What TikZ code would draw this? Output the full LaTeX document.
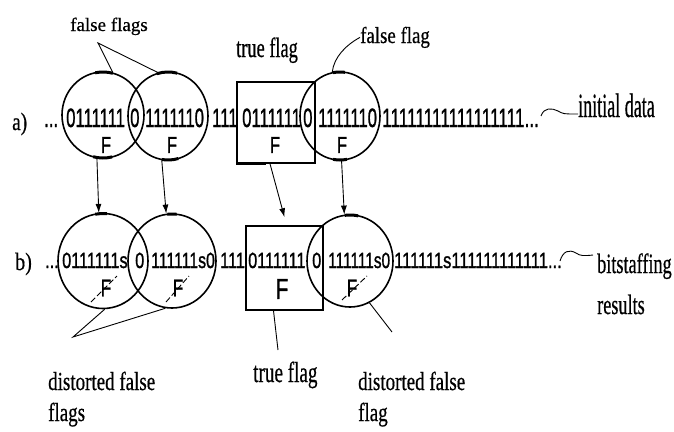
\documentclass[tikz,border=0pt]{standalone}
\usepackage{fontspec}
\usepackage{graphicx}
\setmainfont{Liberation Serif}[RawFeature={embolden=0.6}]
\newfontfamily\rowfont[RawFeature={embolden=1.3}]{Liberation Sans}
\usetikzlibrary{shapes.geometric,arrows.meta}
% horizontally condensed text
\newcommand\sq[2]{\scalebox{#1}[1]{#2}}

\begin{document}
\begin{tikzpicture}[x=1pt,y=-1pt,
  flagring/.style={ellipse, draw, line width=1.6pt, inner sep=0pt},
  flagbox/.style={rectangle, draw, line width=1.5pt, inner sep=0pt},
  blot/.style={line width=3pt},
  bitsA/.style={font=\rowfont\fontsize{26.5}{28}\selectfont, anchor=base west, inner sep=0pt},
  bitsB/.style={font=\rowfont\fontsize{22}{24}\selectfont, anchor=base west, inner sep=0pt},
  flagA/.style={font=\rowfont\fontsize{23}{24}\selectfont, inner sep=0pt},
  flagB/.style={font=\rowfont\fontsize{24}{26}\selectfont, inner sep=0pt},
  lab/.style={anchor=base west, inner sep=0pt},
  ptr/.style={line width=0.9pt},
  arr/.style={line width=0.9pt, -{Latex[length=9pt,width=6pt]}},
  slash/.style={line width=0.9pt, dash pattern=on 6pt off 2.5pt},
]
\fill[white] (0,0) rectangle (674,431);

% ---------- row a: initial data ----------
\node[lab, font=\fontsize{25}{27}\selectfont] (la) at (12,130) {\sq{0.77}{a)}};
\node[bitsA] (a0) at (44,127) {\sq{0.63}{...}};
\node[bitsA] (a1) at (66,127) {\sq{0.63}{0111111}};
\node[bitsA] (a2) at (130,127) {\sq{0.63}{0}};
\node[bitsA] (a3) at (145,127) {\sq{0.63}{1111110}};
\node[bitsA] (a4) at (212,127) {\sq{0.63}{111}};
\node[bitsA] (a5) at (242,127) {\sq{0.63}{0111111}};
\node[bitsA] (a6) at (303,127) {\sq{0.63}{0}};
\node[bitsA] (a7) at (318,127) {\sq{0.63}{1111110}};
\node[bitsA] (a8) at (382,127) {\sq{0.65}{11111111111111111...}};

\node[flagring, minimum width=82pt, minimum height=86pt] (A1) at (103,115) {};
\node[flagring, minimum width=80pt, minimum height=88pt] (A2) at (168,116) {};
\node[flagbox, minimum width=78pt, minimum height=81pt] (RA) at (276,122.5) {};
\node[flagring, minimum width=80pt, minimum height=88pt] (A3) at (340,116) {};

\node[flagA] (FA1) at (106,145) {\sq{0.72}{F}};
\node[flagA] (FA2) at (172,145) {\sq{0.72}{F}};
\node[flagA] (FA3) at (275,145) {\sq{0.72}{F}};
\node[flagA] (FA4) at (342,145) {\sq{0.72}{F}};

% heavier spots on the rings
\draw[blot] (103,115) ++(259:41 and 43) arc[start angle=259, end angle=284, x radius=41, y radius=43];
\draw[blot] (168,116) ++(254:40 and 44) arc[start angle=254, end angle=283, x radius=40, y radius=44];
\draw[blot] (340,116) ++(260:40 and 44) arc[start angle=260, end angle=277, x radius=40, y radius=44];
\draw[blot] (103,115) ++(77:41 and 43) arc[start angle=77, end angle=104, x radius=41, y radius=43];
\draw[blot] (168,116) ++(75:40 and 44) arc[start angle=75, end angle=99, x radius=40, y radius=44];
\draw[blot] (340,116) ++(80:40 and 44) arc[start angle=80, end angle=100, x radius=40, y radius=44];
\draw[line width=2.6pt] (RA.south west) -- ++(30,0);

% ---------- row b: bit stuffing ----------
\node[lab, font=\fontsize{25}{27}\selectfont] (lb) at (15,270) {\sq{0.8}{b)}};
\node[bitsB] (b0) at (45,268) {\sq{0.74}{...}};
\node[bitsB] (b1) at (62,268) {\sq{0.74}{0111111s}};
\node[bitsB] (b2) at (135,268) {\sq{0.74}{0}};
\node[bitsB] (b3) at (151,268) {\sq{0.72}{111111s0}};
\node[bitsB] (b4) at (220,268) {\sq{0.74}{111}};
\node[bitsB] (b5) at (248,268) {\sq{0.74}{0111111}};
\node[bitsB] (b6) at (312,268) {\sq{0.74}{0}};
\node[bitsB] (b7) at (328,268) {\sq{0.70}{111111s0}};
\node[bitsB] (b8) at (394,268) {\sq{0.75}{111111s111111111111...}};

\node[flagring, minimum width=90pt, minimum height=95pt] (B1) at (103,261) {};
\node[flagring, minimum width=88pt, minimum height=94pt] (B2) at (172,261) {};
\node[flagbox, minimum width=77pt, minimum height=84pt] (RB) at (284.5,268) {};
\node[flagring, minimum width=86pt, minimum height=92pt] (B3) at (350,261) {};

\node[flagB] (FB1) at (106,288) {\sq{0.72}{F}};
\node[flagB] (FB2) at (178,288) {\sq{0.72}{F}};
\node[flagB, font=\rowfont\fontsize{29}{30}\selectfont] (FB3) at (282,289) {\sq{0.72}{F}};
\node[flagB] (FB4) at (352,288) {\sq{0.72}{F}};

\draw[slash] ([shift={(-15pt,-14pt)}]FB1.center) -- ([shift={(11pt,12pt)}]FB1.center);
\draw[slash] ([shift={(-12pt,-14pt)}]FB2.center) -- ([shift={(11pt,12pt)}]FB2.center);
\draw[slash] ([shift={(-10pt,-12pt)}]FB4.center) -- ([shift={(15pt,12pt)}]FB4.center);

\draw[blot] (103,261) ++(260:45 and 47.5) arc[start angle=260, end angle=275, x radius=45, y radius=47.5];
\draw[blot] (172,261) ++(264:44 and 47) arc[start angle=264, end angle=276, x radius=44, y radius=47];
\draw[blot] (350,261) ++(263:43 and 46) arc[start angle=263, end angle=281, x radius=43, y radius=46];

% ---------- arrows from a) to b) ----------
\draw[arr] (A1.262) -- (B1.95);
\draw[arr] (A2.262) -- (B2.97);
\draw[arr] ([xshift=-6pt]RA.south) -- ([yshift=8pt]RB.north);
\draw[arr] (A3.272) -- (B3.97);

% ---------- labels and pointers ----------
\node[lab, font=\fontsize{19}{21}\selectfont] (FF) at (70,31) {false flags};
\coordinate (ffa) at (98,43);
\draw[ptr] (A1.77) -- (ffa) -- (A2.103);

\node[lab, font=\fontsize{27.8}{30}\selectfont] (TF) at (236,57) {\sq{0.66}{true flag}};

\node[lab, font=\fontsize{23}{25}\selectfont] (FL) at (360,43) {\sq{0.82}{false flag}};
\draw[ptr] (FL.west) .. controls (346,45) and (334,57) .. (A3.100);

\node[lab, font=\fontsize{34}{36}\selectfont] (ID) at (578,117) {\sq{0.53}{initial data}};
\coordinate (wa) at (541,116);
\draw[ptr] (wa) .. controls (544,107) and (552,108) .. (558,111)
  .. controls (563,114) and (566,114) .. (570,114) -- ([yshift=3pt]ID.base west);

\node[lab, font=\fontsize{28}{41}\selectfont] (BS) at (597,273)
  {\sq{0.65}{\begin{tabular}[t]{@{}l@{}}bitstaffing\\results\end{tabular}}};
\coordinate (wb) at (560,261);
\coordinate (wbe) at (593,255);
\draw[ptr] (wb) .. controls (563,251) and (569,249) .. (576,253)
  .. controls (580,256) and (584,256) .. (wbe);

\node[lab, font=\fontsize{26}{31}\selectfont] (DF) at (48,390)
  {\sq{0.73}{\begin{tabular}[t]{@{}l@{}}distorted false\\flags\end{tabular}}};
\coordinate (dfa) at (73,337);
\draw[ptr] (B1.272) -- (dfa) -- (B2.262);

\node[lab, font=\fontsize{29}{31}\selectfont] (TB) at (253,382) {\sq{0.66}{true flag}};
\coordinate (tfe) at (278,350);
\draw[ptr] ([xshift=-11pt]RB.south) -- (tfe);

\node[lab, font=\fontsize{26}{31}\selectfont] (DR) at (358,390)
  {\sq{0.73}{\begin{tabular}[t]{@{}l@{}}distorted false\\flag\end{tabular}}};
\coordinate (dfe) at (392,332);
\draw[ptr] (B3.295) -- (dfe);
\end{tikzpicture}
\end{document}
